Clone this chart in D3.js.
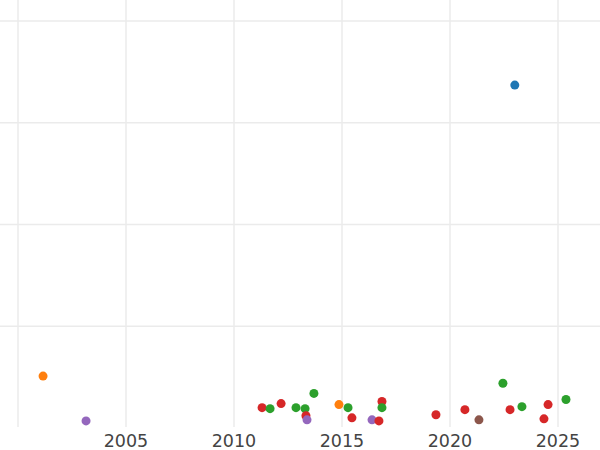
<!DOCTYPE html><html><head><script src="https://cdn.jsdelivr.net/npm/d3@7"></script>
<style>body{margin:0;background:#fff}</style></head><body><svg id="c" width="600" height="450"></svg><script>
const years=[2001.16,2003.15,2011.3,2011.67,2012.18,2012.87,2013.29,2013.33,2013.38,2013.7,2014.86,2015.28,2015.46,2016.39,2016.71,2016.85,2016.85,2019.35,2020.69,2021.34,2022.45,2022.78,2023.0,2023.33,2024.35,2024.54,2025.37];
const values=[0.51,0.07,0.2,0.19,0.24,0.2,0.19,0.12,0.08,0.34,0.23,0.2,0.1,0.08,0.07,0.26,0.2,0.13,0.18,0.08,0.44,0.18,3.37,0.21,0.09,0.23,0.28];
const groups=["orange","purple","red","green","red","green","green","red","purple","green","orange","green","red","purple","red","red","green","red","red","brown","green","red","blue","green","red","red","green"];
const colors={blue:"#1f77b4",orange:"#ff7f0e",green:"#2ca02c",red:"#d62728",purple:"#9467bd",brown:"#8c564b"};
const xTicks=[2000,2005,2010,2015,2020,2025];
const yTicks=[0,1,2,3,4];
const svg=d3.select("#c");
const x=d3.scaleLinear().domain([2000,2025]).range([18,558]);
const y=d3.scaleLinear().domain([0,4]).range([428,21]);
svg.append("g").selectAll("line").data(yTicks.slice(1)).join("line").attr("x1",0).attr("x2",600).attr("y1",d=>y(d)).attr("y2",d=>y(d)).attr("stroke","#ebebeb").attr("stroke-width",1.5);
svg.append("g").selectAll("line").data(xTicks).join("line").attr("x1",d=>x(d)).attr("x2",d=>x(d)).attr("y1",0).attr("y2",427).attr("stroke","#ebebeb").attr("stroke-width",1.5);
svg.append("g").selectAll("text").data(xTicks.slice(1)).join("text").attr("x",d=>x(d)).attr("y",447).attr("text-anchor","middle").attr("font-family","DejaVu Sans").attr("font-size",17.5).attr("fill","#444").text(d=>d);
svg.append("g").selectAll("circle").data(years).join("circle").attr("cx",d=>x(d)).attr("cy",(d,i)=>y(values[i])).attr("r",4.5).attr("fill",(d,i)=>colors[groups[i]]);
</script></body></html>
